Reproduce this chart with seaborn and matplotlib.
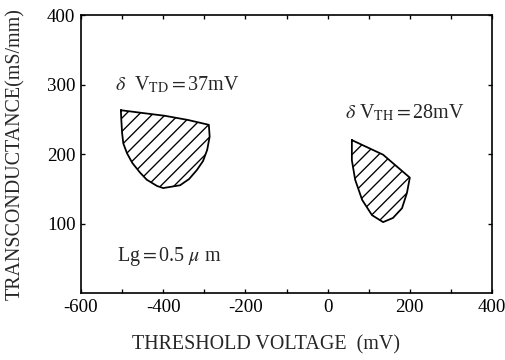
import matplotlib
matplotlib.use("Agg")
import matplotlib.pyplot as plt
import seaborn as sns
import numpy as np

# Data: outlines of the two hatched regions (threshold voltage mV, transconductance mS/mm)
td_x = [-503, -450, -396, -340, -289, -287, -293, -303, -318, -337, -359, -400,
        -415, -440, -456, -475, -488, -497, -500, -502]
td_y = [263, 259, 255, 249, 242, 225, 206, 190, 177, 164, 155, 151,
        154, 163, 173, 187, 201, 215, 230, 250]
th_x = [59, 135, 200, 193, 181, 159, 135, 108, 84, 67, 59]
th_y = [220, 199, 166, 144, 122, 108, 102, 112, 134, 163, 191]

x_ticks = [-600, -400, -200, 0, 200, 400]
y_ticks = [100, 200, 300, 400]
label_td = r"$\delta$  V$_{\mathrm{TD}}$$=$37mV"
label_th = r"$\delta$ V$_{\mathrm{TH}}$$=$28mV"
label_lg = r"Lg$=$0.5 $\mu$ m"

sns.set_theme(style="ticks")
plt.rcParams["font.family"] = ["Liberation Serif", "DejaVu Serif"]
plt.rcParams["mathtext.fontset"] = "stix"
plt.rcParams["hatch.linewidth"] = 1.2
plt.rcParams["axes.unicode_minus"] = False

dpi = 80
fig = plt.figure(figsize=(505 / dpi, 360 / dpi), dpi=dpi)
ax = fig.add_axes([0.1604, 0.1861, 0.8139, 0.7722])

for xs, ys in [(td_x, td_y), (th_x, th_y)]:
    ax.fill(xs, ys, facecolor="white", edgecolor="black", hatch="//", linewidth=0)
    sns.lineplot(x=xs + [xs[0]], y=ys + [ys[0]], sort=False, estimator=None,
                 color="black", linewidth=1.6, ax=ax)

ax.set_xlim(-600, 400)
ax.set_ylim(0, 400)
ax.set_xticks(x_ticks)
ax.set_xticks(np.arange(-600, 401, 100), minor=True)
ax.set_yticks(y_ticks)
ax.tick_params(axis="both", which="both", direction="in", top=True, right=True,
               length=4, width=1.2, labelsize=17, colors="black", pad=5)
for s in ax.spines.values():
    s.set_linewidth(1.5)
    s.set_color("black")

ax.set_xlabel("THRESHOLD VOLTAGE  (mV)", fontsize=18)
ax.set_ylabel("TRANSCONDUCTANCE(mS/mm)", fontsize=18)
ax.xaxis.set_label_coords(0.451, -0.151)
ax.yaxis.set_label_coords(-0.136, 0.5)

ax.text(-517, 299, label_td, fontsize=18, ha="left", va="center")
ax.text(42, 259, label_th, fontsize=18, ha="left", va="center")
ax.text(-512, 52, label_lg, fontsize=18, ha="left", va="center")

fig.savefig("out.png", dpi=dpi)
